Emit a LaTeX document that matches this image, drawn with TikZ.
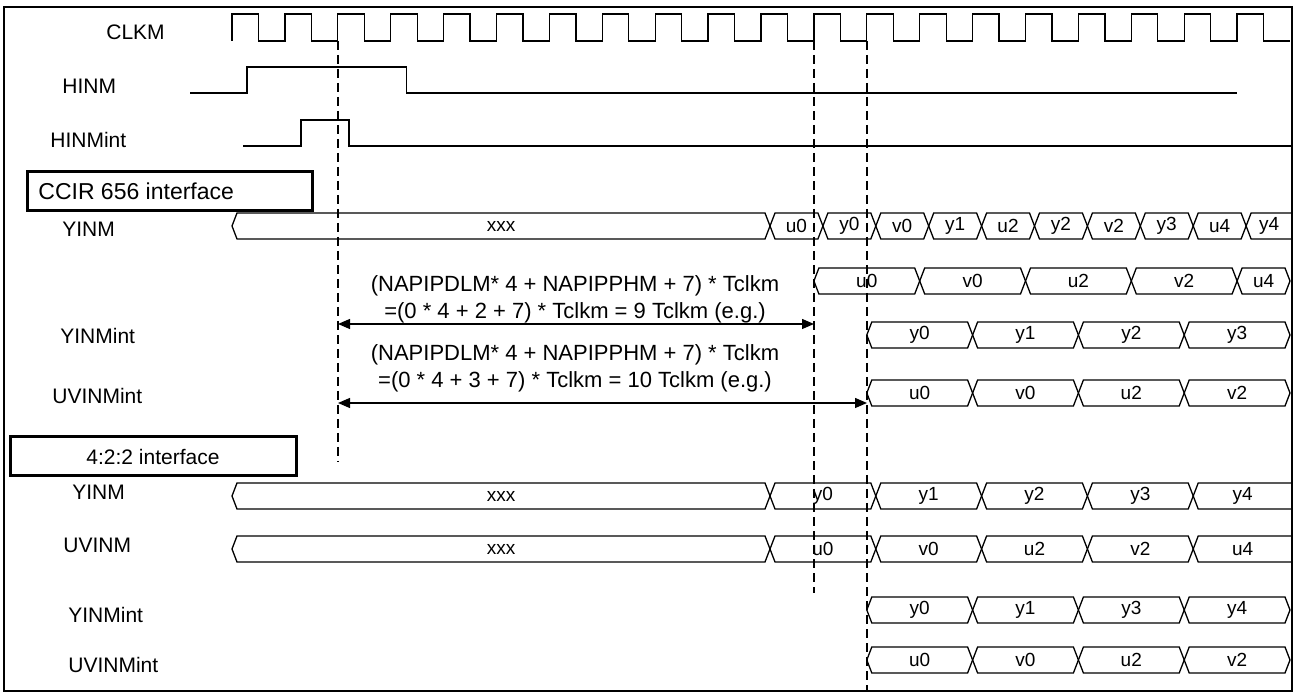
\documentclass[tikz,border=0pt]{standalone}
\usepackage{fontspec}
\setmainfont{Liberation Sans}
\usetikzlibrary{arrows.meta}

\tikzset{
  wave/.style={line width=0.65pt},
  guide/.style={line width=0.65pt, dash pattern=on 4.5pt off 2.5pt},
  ifbox/.style={draw, line width=1.5pt, inner sep=0pt, font=\fontsize{10.5}{12}\selectfont},
  siglabel/.style={anchor=west, inner sep=0pt, font=\fontsize{10.5}{12}\selectfont},
  celltext/.style={inner sep=0pt, font=\fontsize{9.5}{10}\selectfont},
  note/.style={align=center, inner sep=0pt, font=\fontsize{11}{13.5}\selectfont},
  span/.style={<->, line width=0.65pt}
}

% one bus cell between two crossings
\newcommand{\buscell}[5]{%
  \draw[wave] ({#1},{#3}) -- ({#1+5},{#3-13}) -- ({#2-5},{#3-13}) -- ({#2},{#3})
    -- ({#2-5},{#3+13}) -- ({#1+5},{#3+13}) -- cycle;
  \node[celltext] (#5) at ({(#1+#2)/2},{#3}) {#4};}
% last cell, running into the frame
\newcommand{\busopen}[4]{%
  \draw[wave] (1292,{#2-13}) -- ({#1+5},{#2-13}) -- ({#1},{#2})
    -- ({#1+5},{#2+13}) -- (1292,{#2+13});
  \node[celltext] (#4) at ({(#1+1292)/2},{#2}) {#3};}

\begin{document}
\begin{tikzpicture}[x=0.5pt, y=-0.5pt, >={Triangle[length=6pt,width=5pt]}]
  \useasboundingbox (0,0) rectangle (1295,694);
  \draw[line width=1pt] (3.7,6.8) rectangle (1292,690.5);

  % signal names
  \node[siglabel] (clkm) at (106,32) {CLKM};
  \node[siglabel] (hinm) at (62,86) {HINM};
  \node[siglabel] (hinmint) at (50,140) {HINMint};
  \node[siglabel] (yinm) at (62,229) {YINM};
  \node[siglabel] (yinmint) at (60,336) {YINMint};
  \node[siglabel] (uvinmint) at (52,396) {UVINMint};
  \node[siglabel] (yinmb) at (72,492) {YINM};
  \node[siglabel] (uvinmb) at (63,545) {UVINM};
  \node[siglabel] (yinmintb) at (68,615) {YINMint};
  \node[siglabel] (uvinmintb) at (68,665) {UVINMint};

  \node[ifbox, minimum width=142.5pt, minimum height=19.5pt] (ccir) at (169.5,191.5) {};
  \node[siglabel, font=\fontsize{11.5}{13}\selectfont] (ccirtext) at (38,191.5) {CCIR 656 interface};
  \node[ifbox, minimum width=143pt, minimum height=19.5pt] (fourtwotwo) at (153,456.5) {4:2:2 interface};

  % clock, period 52.9
  \draw[wave] (232,41) \foreach \k in {0,...,19} {
      -- ++(0,-27) -- ++(26.45,0) -- ++(0,27) -- ++(26.45,0)};
  \draw[wave] (190,93) -- (247,93) -- (247,67) -- (406.5,67) -- (406.5,93) -- (1237,93);
  \draw[wave] (243,146) -- (301,146) -- (301,120) -- (349,120) -- (349,146) -- (1292,146);

  % CCIR 656 buses
  \buscell{232}{770}{226}{xxx}{cyx}
  \foreach \t [count=\i from 10] in {u0,y0,v0,y1,u2,y2,v2,y3,u4}
    {\buscell{241+52.9*\i}{241+52.9*(\i+1)}{226}{\t}{cy\i}}
  \busopen{241+52.9*19}{226}{y4}{cy19}
  \foreach \a/\b/\t in {11/13/u0, 13/15/v0, 15/17/u2, 17/19/v2, 19/20/u4}
    {\buscell{232+52.9*\a}{232+52.9*\b}{281}{\t}{cuv\a}}
  \foreach \a/\b/\t in {12/14/y0, 14/16/y1, 16/18/y2, 18/20/y3}
    {\buscell{232+52.9*\a}{232+52.9*\b}{335}{\t}{cyi\a}}
  \foreach \a/\b/\t in {12/14/u0, 14/16/v0, 16/18/u2, 18/20/v2}
    {\buscell{232+52.9*\a}{232+52.9*\b}{393}{\t}{cuvi\a}}

  % 4:2:2 buses
  \buscell{232}{770}{496}{xxx}{dyx}
  \buscell{232}{770}{549}{xxx}{duvx}
  \foreach \a/\b/\t/\s in {10/12/y0/u0, 12/14/y1/v0, 14/16/y2/u2, 16/18/y3/v2}
    {\buscell{241+52.9*\a}{241+52.9*\b}{496}{\t}{dy\a}
     \buscell{241+52.9*\a}{241+52.9*\b}{549}{\s}{duv\a}}
  \busopen{241+52.9*18}{496}{y4}{dy18}
  \busopen{241+52.9*18}{549}{u4}{duv18}
  \foreach \a/\b/\t/\s in {12/14/y0/u0, 14/16/y1/v0, 16/18/y3/u2, 18/20/y4/v2}
    {\buscell{232+52.9*\a}{232+52.9*\b}{610}{\t}{dyi\a}
     \buscell{232+52.9*\a}{232+52.9*\b}{660}{\s}{duvi\a}}

  % guides
  \draw[guide] (338,41) -- (338,462);
  \draw[guide] (814,41) -- (814,593);
  \draw[guide] (867,41) -- (867,690.5);

  % latency notes
  \node[note] (lat1) at (575,299) {(NAPIPDLM* 4 + NAPIPPHM + 7) * Tclkm\\=(0 * 4 + 2 + 7) * Tclkm = 9 Tclkm (e.g.)};
  \node[note] (lat2) at (575,368.5) {(NAPIPDLM* 4 + NAPIPPHM + 7) * Tclkm\\=(0 * 4 + 3 + 7) * Tclkm = 10 Tclkm (e.g.)};
  \coordinate (s1) at (338,324);
  \coordinate (e1) at (814,324);
  \coordinate (s2) at (338,403);
  \coordinate (e2) at (867,403);
  \draw[span] (s1) -- (e1);
  \draw[span] (s2) -- (e2);
\end{tikzpicture}
\end{document}
